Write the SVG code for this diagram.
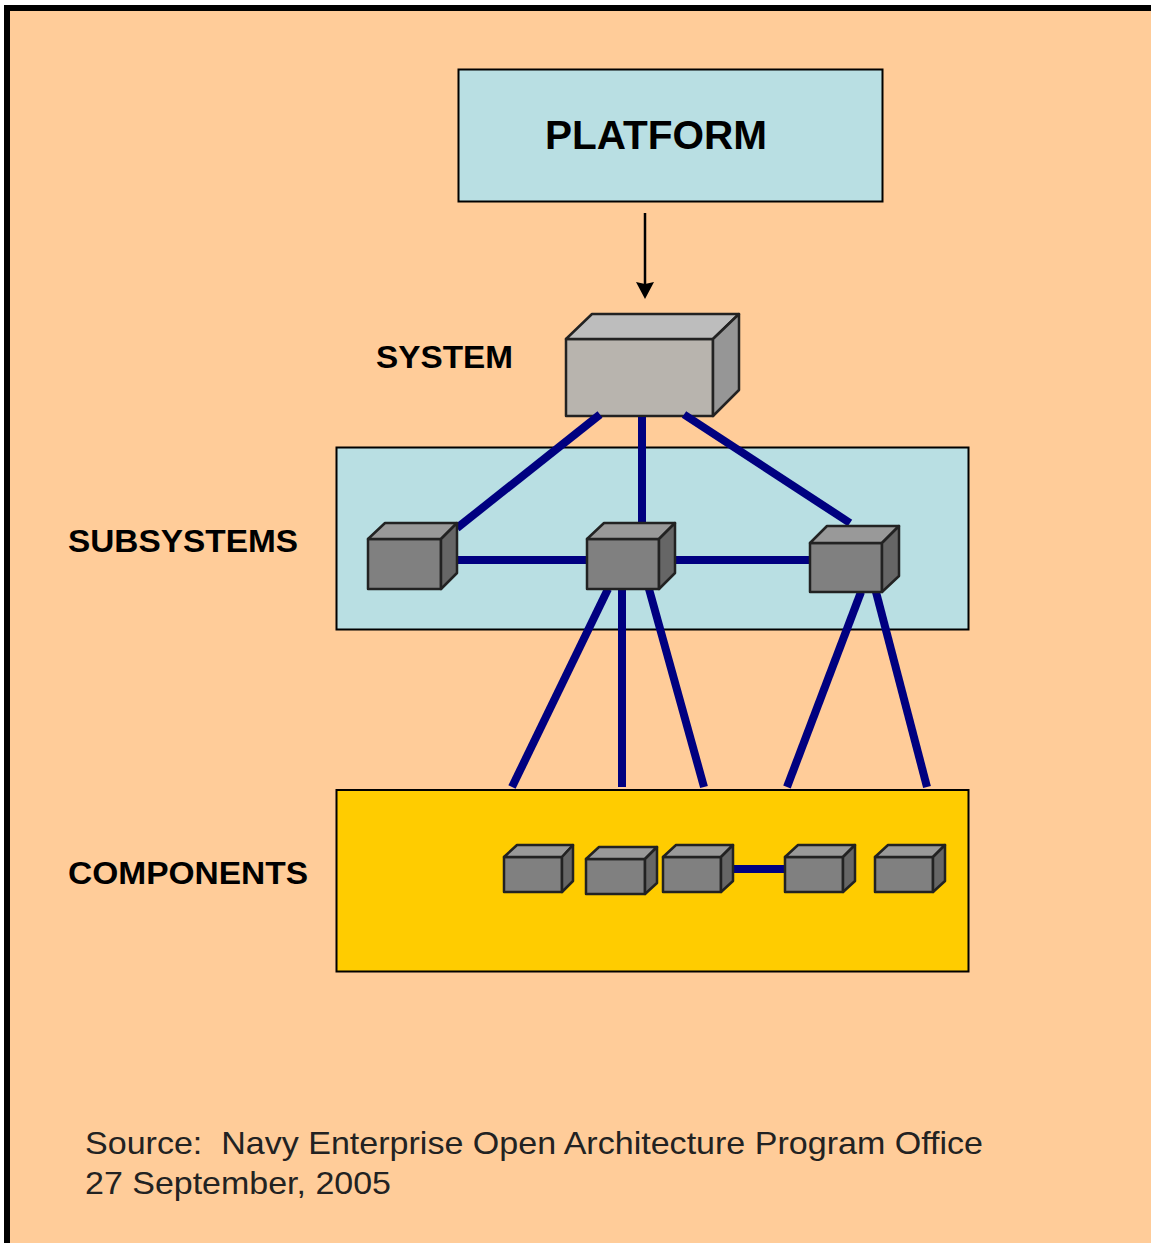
<svg xmlns="http://www.w3.org/2000/svg" width="1151" height="1243" viewBox="0 0 1151 1243">
<defs>
<style>
.box{stroke:#000;stroke-width:2}
.lbl{font-family:"Liberation Sans",Arial,sans-serif;fill:#000;font-weight:bold}
.src{font-family:"Liberation Sans",Arial,sans-serif;fill:#222;font-size:32px}
.cube polygon{stroke:#222;stroke-width:2.500;stroke-linejoin:round}
.front{fill:#808080}.top{fill:#999}.side{fill:#666}
.sfront{fill:#b8b4ae}.stop{fill:#bdbdbd}.sside{fill:#969696}
#connectors line{stroke:#000080;stroke-width:8}
</style>
<marker id="arr" markerUnits="userSpaceOnUse" markerWidth="18" markerHeight="18" refX="3" refY="9" orient="auto"><path d="M0,0 L17,9 L0,18 L2,9 Z" fill="#000"/></marker>
</defs>
<rect width="1151" height="1243" fill="#fff"/>
<rect x="4" y="5" width="1147" height="1238" fill="#000"/>
<rect x="10" y="11" width="1141" height="1232" fill="#ffcc99"/>

<g id="platform"><rect class="box" x="458.500" y="69.500" width="424" height="132" fill="#b9dfe3"/>
<text class="lbl" x="545" y="149" font-size="40" textLength="222" lengthAdjust="spacingAndGlyphs">PLATFORM</text></g>
<g id="subsystems-panel"><rect class="box" x="336.500" y="447.500" width="632" height="182" fill="#b9dfe3"/>
<text class="lbl" x="68" y="552" font-size="32" textLength="230" lengthAdjust="spacingAndGlyphs">SUBSYSTEMS</text></g>
<g id="components-panel"><rect class="box" x="336.500" y="790" width="632" height="181.500" fill="#ffcc00"/>
<text class="lbl" x="68" y="884" font-size="32" textLength="240" lengthAdjust="spacingAndGlyphs">COMPONENTS</text></g>

<g id="system" class="cube"><polygon class="sfront" points="566,339 713,339 713,416 566,416"/><polygon class="stop" points="566,339 592,314 739,314 713,339"/><polygon class="sside" points="713,339 739,314 739,390 713,416"/>
<text class="lbl" x="376" y="368" font-size="32" textLength="137" lengthAdjust="spacingAndGlyphs">SYSTEM</text></g>

<g id="connectors">
<line x1="645" y1="213" x2="645" y2="285" marker-end="url(#arr)" style="stroke:#000;stroke-width:2.500"/>
<line x1="600" y1="414.500" x2="457" y2="528"/>
<line x1="642" y1="417" x2="642" y2="523"/>
<line x1="684" y1="414.500" x2="850" y2="523"/>
<line x1="457" y1="560" x2="587" y2="560"/>
<line x1="676" y1="560" x2="810" y2="560"/>
<line x1="608" y1="589" x2="512" y2="787"/>
<line x1="622" y1="589" x2="622" y2="787"/>
<line x1="649" y1="589" x2="704" y2="787"/>
<line x1="861" y1="592" x2="787" y2="787"/>
<line x1="876" y1="592" x2="927" y2="787"/>
<line x1="733" y1="869" x2="785" y2="869"/>
</g>

<g id="subsystem-1" class="cube"><polygon class="front" points="368,539 441,539 441,589 368,589"/><polygon class="top" points="368,539 385,523 457,523 441,539"/><polygon class="side" points="441,539 457,523 457,573 441,589"/></g>
<g id="subsystem-2" class="cube"><polygon class="front" points="587,539 659,539 659,589 587,589"/><polygon class="top" points="587,539 604,523 675,523 659,539"/><polygon class="side" points="659,539 675,523 675,573 659,589"/></g>
<g id="subsystem-3" class="cube"><polygon class="front" points="810,543 882,543 882,592 810,592"/><polygon class="top" points="810,543 827,526 899,526 882,543"/><polygon class="side" points="882,543 899,526 899,576 882,592"/></g>

<g id="component-1" class="cube"><polygon class="front" points="504,857 562,857 562,892 504,892"/><polygon class="top" points="504,857 517,845 573,845 562,857"/><polygon class="side" points="562,857 573,845 573,881 562,892"/></g>
<g id="component-2" class="cube"><polygon class="front" points="586,859 645,859 645,894 586,894"/><polygon class="top" points="586,859 599,847 657,847 645,859"/><polygon class="side" points="645,859 657,847 657,883 645,894"/></g>
<g id="component-3" class="cube"><polygon class="front" points="663,857 721,857 721,892 663,892"/><polygon class="top" points="663,857 676,845 733,845 721,857"/><polygon class="side" points="721,857 733,845 733,881 721,892"/></g>
<g id="component-4" class="cube"><polygon class="front" points="785,857 843,857 843,892 785,892"/><polygon class="top" points="785,857 798,845 855,845 843,857"/><polygon class="side" points="843,857 855,845 855,881 843,892"/></g>
<g id="component-5" class="cube"><polygon class="front" points="875,857 933,857 933,892 875,892"/><polygon class="top" points="875,857 888,845 945,845 933,857"/><polygon class="side" points="933,857 945,845 945,881 933,892"/></g>

<g id="source">
<text class="src" x="85" y="1154" xml:space="preserve" textLength="898" lengthAdjust="spacingAndGlyphs">Source:  Navy Enterprise Open Architecture Program Office</text>
<text class="src" x="85" y="1194" textLength="306" lengthAdjust="spacingAndGlyphs">27 September, 2005</text>
</g>
</svg>
